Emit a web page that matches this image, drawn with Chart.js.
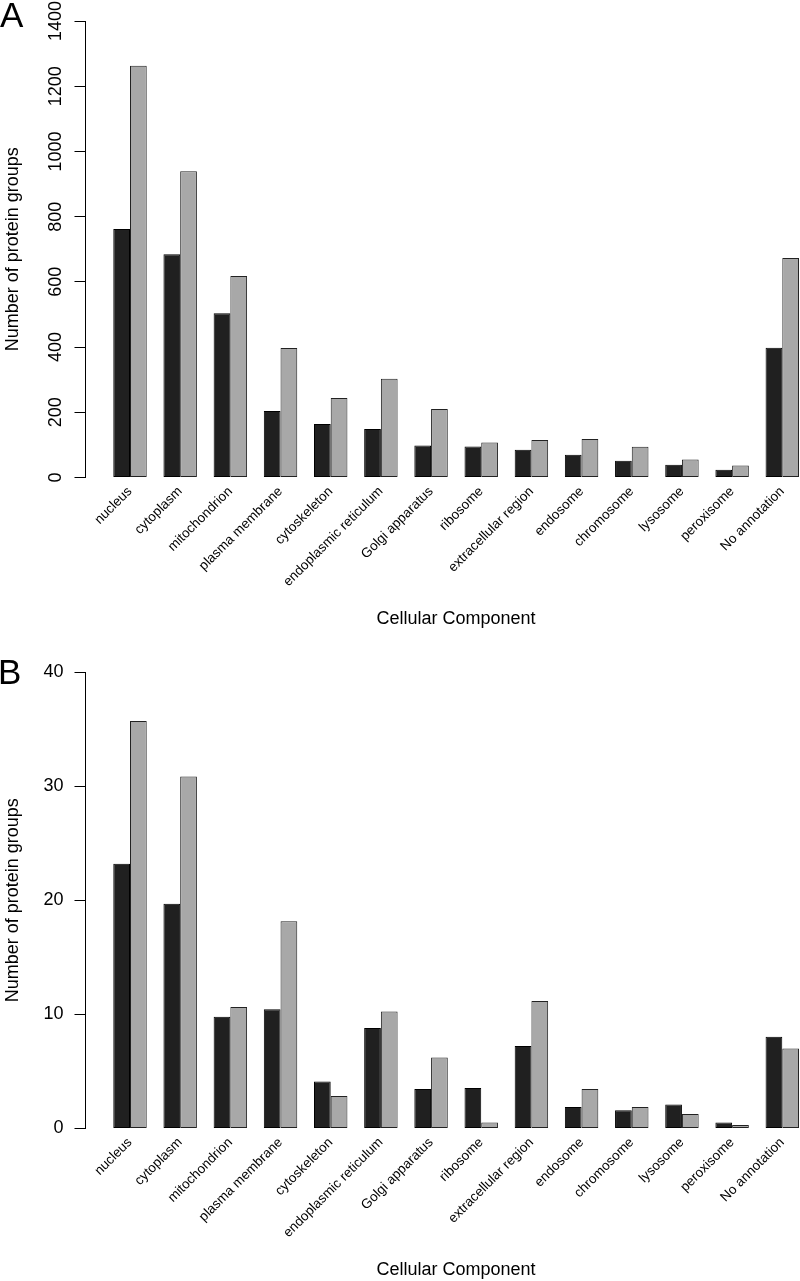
<!DOCTYPE html>
<html>
<head>
<meta charset="utf-8">
<script src="https://cdn.jsdelivr.net/npm/chart.js@4.4.1/dist/chart.umd.min.js"></script>
<style>
  html, body { margin: 0; padding: 0; background: #fff; }
  #page { position: relative; width: 800px; height: 1281px; overflow: hidden; }
  .panel { position: absolute; left: 0; width: 840px; height: 640px; }
  .panel canvas { display: block; }
  .letter { position: absolute; font-family: 'Liberation Sans', Arial, sans-serif; font-size: 35px; line-height: 35px; color: #000; }
</style>
</head>
<body>
<div id="page">
  <div class="panel" style="top:0"><canvas id="canva1" width="840" height="640"></canvas></div>
  <div class="panel" style="top:651px"><canvas id="canva2" width="840" height="640"></canvas></div>
  <div class="letter" style="left:0;top:-3px">A</div>
  <div class="letter" style="left:-2px;top:654px">B</div>
</div>
<script>
const categories = ["nucleus", "cytoplasm", "mitochondrion", "plasma membrane", "cytoskeleton",
  "endoplasmic reticulum", "Golgi apparatus", "ribosome", "extracellular region", "endosome",
  "chromosome", "lysosome", "peroxisome", "No annotation"];

// panel A: counts
const darkA = [762, 685, 504, 204, 164, 149, 98, 95, 85, 70, 51, 39, 24, 398];
const greyA = [1263, 939, 618, 397, 244, 303, 210, 107, 115, 118, 94, 55, 37, 673];
const ticksA = { max: 1400, step: 200 };

// panel B
const darkB = [23.2, 19.7, 9.8, 10.44, 4.12, 8.8, 3.46, 3.54, 7.23, 1.88, 1.61, 2.1, 0.53, 8.04];
const greyB = [35.7, 30.85, 10.65, 18.16, 2.84, 10.26, 6.23, 0.53, 11.18, 3.46, 1.88, 1.26, 0.3, 7.02];
const ticksB = { max: 40, step: 10 };

Chart.defaults.font.family = "'Liberation Sans', Arial, Helvetica, sans-serif";
Chart.defaults.color = "#000";

function toPoints(values) {
  return values.map((v, i) => ({ x: i, y: v }));
}

function noPadding(s) {
  s.paddingLeft = 0;
  s.paddingRight = 0;
  s.paddingTop = 0;
  s.paddingBottom = 0;
}

function drawPanel(id, dark, grey, yTicks, yRot, yPad) {
  return new Chart(document.getElementById(id), {
    type: "bar",
    data: {
      datasets: [
        { data: toPoints(dark), backgroundColor: "#202020", borderColor: "#000", borderWidth: 1,
          borderSkipped: false, categoryPercentage: 2 / 3, barPercentage: 1 },
        { data: toPoints(grey), backgroundColor: "#a8a8a8", borderColor: "#222", borderWidth: 1,
          borderSkipped: false, categoryPercentage: 2 / 3, barPercentage: 1 }
      ]
    },
    options: {
      responsive: false,
      animation: false,
      layout: { padding: { top: 21, left: 0, right: 13.5, bottom: 0 } },
      plugins: { legend: { display: false }, tooltip: { enabled: false } },
      scales: {
        x: {
          type: "linear",
          offset: false,
          min: -0.887,
          max: 13.881,
          afterBuildTicks: s => { s.ticks = categories.map((c, i) => ({ value: i })); },
          afterFit: s => { s.height = 162.5; noPadding(s); },
          grid: { display: false, drawTicks: false },
          border: { display: false },
          ticks: {
            autoSkip: false, minRotation: 45, maxRotation: 45, padding: 6,
            font: { size: 13.5 },
            callback: v => categories[v]
          },
          title: { display: true, text: "Cellular Component", font: { size: 18 }, padding: { top: 0, bottom: 10 } }
        },
        y: {
          min: 0,
          max: yTicks.max,
          afterFit: s => { s.width = 85.5; noPadding(s); },
          grid: { drawOnChartArea: false, tickLength: 11, color: "#000" },
          border: { color: "#000" },
          ticks: {
            stepSize: yTicks.step, minRotation: yRot, maxRotation: yRot,
            crossAlign: yRot ? "center" : "near", padding: yPad,
            font: { size: 18, lineHeight: 1 },
            callback: v => String(v)
          },
          title: { display: true, text: "Number of protein groups", font: { size: 18 }, padding: { top: 2, bottom: 0 } }
        }
      }
    }
  });
}

drawPanel("canva1", darkA, greyA, ticksA, 90, -2);
drawPanel("canva2", darkB, greyB, ticksB, 0, 11);
</script>
</body>
</html>
